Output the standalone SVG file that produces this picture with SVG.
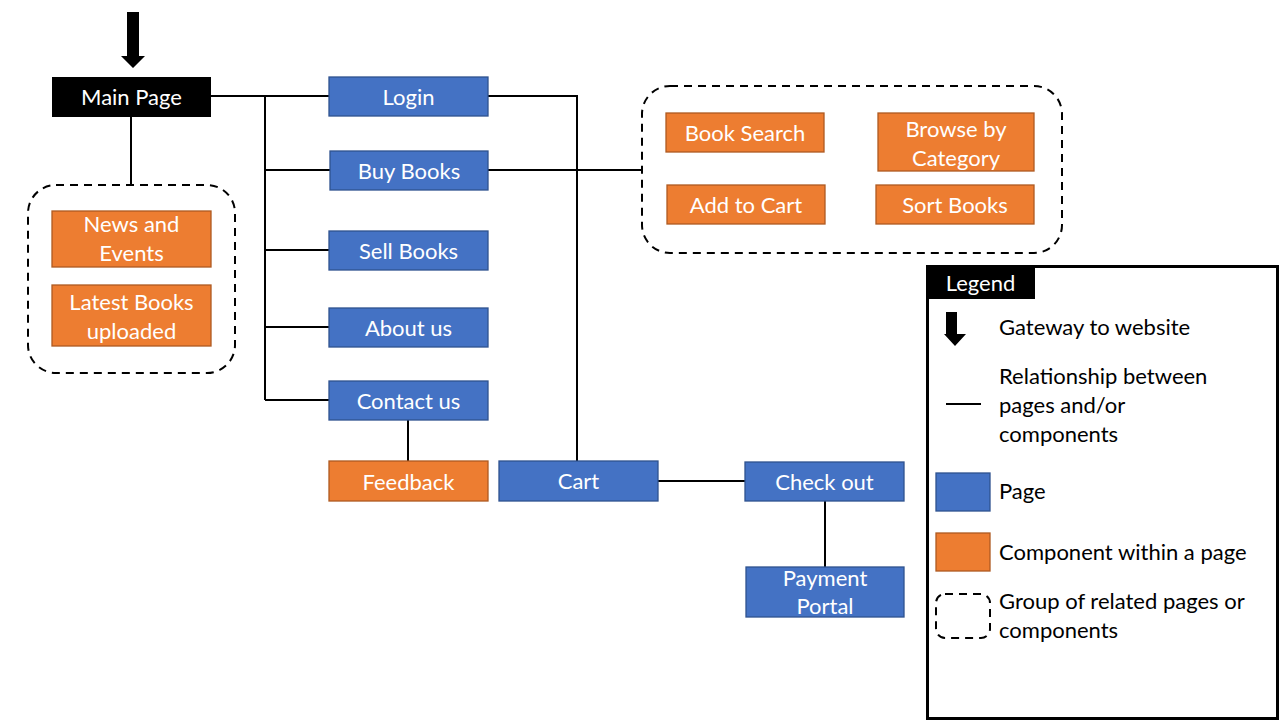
<svg xmlns="http://www.w3.org/2000/svg" width="1280" height="720" viewBox="0 0 1280 720">
<style>
text{font-family:Lato,"Open Sans","Liberation Sans",sans-serif;font-size:22px}
.pg{fill:#4472C4;stroke:#2F528F;stroke-width:1.3}
.cp{fill:#ED7D31;stroke:#AE5A21;stroke-width:1.3}
.wt{fill:#fff;text-anchor:middle;dominant-baseline:central}
.lt{fill:#000;dominant-baseline:central}
.ln{stroke:#000;stroke-width:2;fill:none}
.grp{fill:none;stroke:#000;stroke-width:2;stroke-dasharray:8 6}
</style>
<rect width="1280" height="720" fill="#fff"/>
<g id="connectors">
<path class="ln" d="M131,117V185"/>
<path class="ln" d="M211,96H329M265,96V400M265,170H330M265,250H329M265,327H329M265,400H329"/>
<path class="ln" d="M408,420V461"/>
<path class="ln" d="M488,96H577V461"/>
<path class="ln" d="M488,170H642"/>
<path class="ln" d="M658,481H745"/>
<path class="ln" d="M825,501V567"/>
</g>
<g id="gateway">
<path d="M127,12H139V56H145L133,68L121,56H127Z" fill="#000"/>
</g>
<g id="main-page">
<rect x="52" y="77" width="159" height="40" fill="#000"/>
<text class="wt" x="131.5" y="96">Main Page</text>
</g>
<g id="group-left">
<rect class="grp" x="28" y="185" width="207" height="188" rx="28"/>
</g>
<g id="news">
<rect class="cp" x="52" y="211" width="159" height="56"/>
<text class="wt" x="131.5" y="223">News and</text>
<text class="wt" x="131.5" y="252">Events</text>
</g>
<g id="latest">
<rect class="cp" x="52" y="285" width="159" height="61"/>
<text class="wt" x="131.5" y="301">Latest Books</text>
<text class="wt" x="131.5" y="330">uploaded</text>
</g>
<g id="login"><rect class="pg" x="329" y="77" width="159" height="39"/><text class="wt" x="408.5" y="96">Login</text></g>
<g id="buy"><rect class="pg" x="330" y="151" width="158" height="39"/><text class="wt" x="409" y="170">Buy Books</text></g>
<g id="sell"><rect class="pg" x="329" y="231" width="159" height="39"/><text class="wt" x="408.5" y="250">Sell Books</text></g>
<g id="about"><rect class="pg" x="329" y="308" width="159" height="39"/><text class="wt" x="408.5" y="327">About us</text></g>
<g id="contact"><rect class="pg" x="329" y="381" width="159" height="39"/><text class="wt" x="408.5" y="400">Contact us</text></g>
<g id="feedback"><rect class="cp" x="329" y="461" width="159" height="40"/><text class="wt" x="408.5" y="481">Feedback</text></g>
<g id="cart"><rect class="pg" x="499" y="461" width="159" height="40"/><text class="wt" x="578.5" y="480">Cart</text></g>
<g id="checkout"><rect class="pg" x="745" y="462" width="159" height="39"/><text class="wt" x="824.5" y="481">Check out</text></g>
<g id="payment"><rect class="pg" x="746" y="567" width="158" height="50"/><text class="wt" x="825" y="577">Payment</text><text class="wt" x="825" y="605">Portal</text></g>
<g id="group-right">
<rect class="grp" x="642" y="86" width="420" height="167" rx="28"/>
</g>
<g id="search"><rect class="cp" x="666" y="113" width="158" height="39"/><text class="wt" x="745" y="132">Book Search</text></g>
<g id="browse"><rect class="cp" x="878" y="113" width="156" height="58"/><text class="wt" x="956" y="128">Browse by</text><text class="wt" x="956" y="157">Category</text></g>
<g id="addcart"><rect class="cp" x="667" y="185" width="158" height="39"/><text class="wt" x="746" y="204">Add to Cart</text></g>
<g id="sort"><rect class="cp" x="876" y="185" width="158" height="39"/><text class="wt" x="955" y="204">Sort Books</text></g>
<g id="legend">
<rect x="927.5" y="266.5" width="350" height="452" fill="#fff" stroke="#000" stroke-width="3"/>
<rect x="926" y="265" width="109" height="34" fill="#000"/>
<text class="wt" x="980.5" y="282">Legend</text>
<path d="M946,312H957V334H966L955,346L944,334H946Z" fill="#000"/>
<text class="lt" x="999" y="326">Gateway to website</text>
<path class="ln" d="M946,404H981"/>
<text class="lt" x="999" y="375">Relationship between</text>
<text class="lt" x="999" y="404">pages and/or</text>
<text class="lt" x="999" y="433">components</text>
<rect class="pg" x="936" y="473" width="54" height="38"/>
<text class="lt" x="999" y="490">Page</text>
<rect class="cp" x="936" y="533" width="54" height="38"/>
<text class="lt" x="999" y="551">Component within a page</text>
<rect class="grp" x="936" y="594" width="54" height="44" rx="9" stroke-dasharray="6 5"/>
<text class="lt" x="999" y="600">Group of related pages or</text>
<text class="lt" x="999" y="629">components</text>
</g>
</svg>
